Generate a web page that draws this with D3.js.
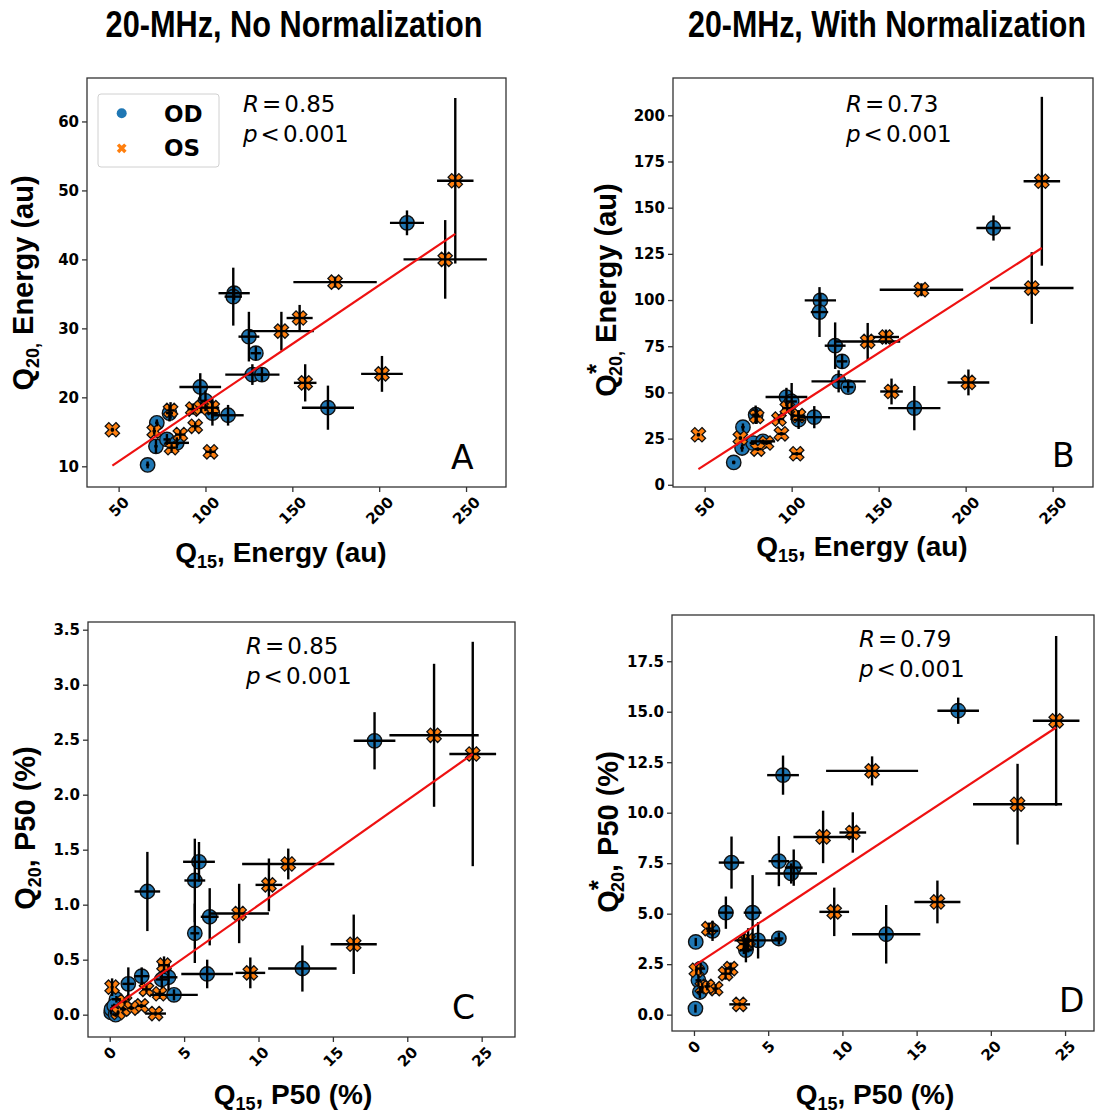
<!DOCTYPE html>
<html><head><meta charset="utf-8">
<script src="https://cdn.jsdelivr.net/npm/d3@7"></script>
<style>body{margin:0;background:#fff} svg{display:block} text{white-space:pre}</style>
</head><body><svg id="c" width="1095" height="1116"></svg>
<script>
// ---------- DATA ----------
// Energy (panels A & B share x)
const energyX_OD    = [216, 116.5, 116, 125, 129, 127, 132.5, 97, 100, 113, 104, 79.3, 72, 71.5, 66.7, 170.5, 77.8, 83.5];
const energyXerr_OD = [9.8, 9, 5, 6, 3, 15.6, 3, 12, 3, 9, 3, 2, 1, 1, 1, 15, 2, 7];
const energyA_OD    = [45.3, 35.1, 34.6, 28.8, 26.4, 23.3, 23.3, 21.5, 19.5, 17.4, 17.7, 17.7, 16.3, 12.9, 10.2, 18.5, 13.9, 13.4];
const energyAerr_OD = [1.8, 1, 4.2, 3.6, 1, 1.5, 1, 2, 1.5, 1.5, 1.8, 1.2, 0.5, 1, 0.5, 3.2, 0.8, 0.8];
const energyB_OD    = [139, 99.8, 93.5, 75.3, 66.8, 56, 52.9, 47.5, 45.1, 36.6, 35.2, 37.9, 31.2, 19.9, 12.1, 41.5, 22.6, 23.5];
const energyBerr_OD = [6.8, 4, 13.5, 12.6, 4, 6, 3, 5, 10, 6, 5, 5, 2, 2, 1, 12, 1, 1];

const energyX_OS    = [243.8, 238, 174.6, 154.2, 143.7, 201.6, 157.4, 102.9, 46.4, 94.1, 92.7, 103.9, 79.9, 70.5, 85.5, 80.5, 97.5];
const energyXerr_OS = [10.5, 24, 24, 7.5, 18.7, 12, 6.5, 3, 1, 2, 3, 4, 2, 1, 3, 2, 3];
const energyA_OS    = [51.4, 40, 36.7, 31.5, 29.6, 23.4, 22.1, 12.1, 15.3, 15.8, 18.3, 18.5, 18.1, 15.1, 14.6, 12.7, 18.5];
const energyAerr_OS = [12, 5.7, 0.8, 1.9, 2.8, 2.6, 2.7, 0.4, 0.3, 0.5, 0.8, 1.5, 1.2, 0.5, 0.5, 0.5, 0.8];
const energyB_OS    = [164.3, 106.5, 105.6, 80, 77.6, 55.4, 50.5, 16.8, 27.1, 27.6, 35.6, 37.4, 37, 25.3, 22.6, 19.3, 41.5];
const energyBerr_OS = [45.7, 19.4, 3.5, 4, 10, 7, 7, 1, 1, 1, 2, 3, 4, 1, 1, 1, 2];

// P50 (panels C & D share x)
const p50X_OD    = [17.8, 6.0, 2.53, 5.72, 6.72, 6.55, 5.72, 12.95, 2.15, 3.95, 1.25, 3.5, 4.32, 0.1, 0.12, 0.45, 0.3, 0.4];
const p50Xerr_OD = [1.4, 1.07, 0.86, 0.7, 0.6, 1.74, 0.3, 2.3, 0.5, 0.6, 0.4, 0.4, 1.6, 0.05, 0.05, 0.3, 0.2, 0.2];
const p50C_OD    = [2.49, 1.39, 1.12, 1.22, 0.89, 0.37, 0.74, 0.42, 0.35, 0.34, 0.28, 0.32, 0.18, 0.02, 0.05, 0.14, 0.08, 0.0];
const p50Cerr_OD = [0.26, 0.18, 0.36, 0.38, 0.26, 0.13, 0.27, 0.21, 0.08, 0.12, 0.15, 0.08, 0.05, 0.02, 0.02, 0.03, 0.02, 0.02];
const p50D_OD    = [15.05, 11.86, 7.53, 7.6, 7.28, 6.99, 3.77, 3.98, 5.05, 5.05, 4.15, 3.19, 3.68, 0.3, 3.6, 2.28, 1.7, 1.12];
const p50Derr_OD = [0.65, 0.97, 1.29, 1.24, 0.9, 0.5, 0.3, 1.45, 0.8, 1.86, 0.5, 0.6, 0.9, 0.2, 0.2, 0.3, 0.3, 0.3];

const p50X_OS    = [24.4, 21.8, 12.0, 10.7, 8.7, 16.4, 9.45, 3.65, 3.08, 0.16, 2.47, 3.36, 2.13, 1.46, 0.9, 0.56, 1.0];
const p50Xerr_OS = [1.57, 3.0, 3.1, 0.9, 2.0, 1.55, 1.0, 0.4, 0.7, 0.1, 0.3, 0.3, 0.3, 0.2, 0.2, 0.1, 0.2];
const p50C_OS    = [2.37, 2.54, 1.37, 1.18, 0.92, 0.64, 0.38, 0.45, 0.01, 0.25, 0.23, 0.19, 0.08, 0.06, 0.05, 0.02, 0.12];
const p50Cerr_OS = [1.02, 0.65, 0.14, 0.24, 0.27, 0.27, 0.14, 0.08, 0.02, 0.08, 0.03, 0.03, 0.02, 0.02, 0.02, 0.02, 0.03];
const p50D_OS    = [14.55, 10.42, 12.07, 9.02, 8.8, 5.58, 5.09, 3.68, 0.51, 2.2, 2.28, 3.5, 2.03, 1.29, 1.4, 1.35, 4.26];
const p50Derr_OS = [4.2, 2.0, 0.72, 1.0, 1.3, 1.06, 1.2, 0.6, 0.1, 0.2, 0.3, 0.5, 0.3, 0.2, 0.2, 0.2, 0.3];

// regression line end points
const fitA = [[46.4, 10.1], [243.8, 43.7]];
const fitB = [[46.4, 8.5], [243.8, 128.2]];
const fitC = [[0.05, 0.045], [24.4, 2.37]];
const fitD = [[0.05, 2.44], [24.4, 14.22]];

// ticks
const ticksXEnergy = [50, 100, 150, 200, 250];
const ticksXP50    = [0, 5, 10, 15, 20, 25];
const ticksYA = [10, 20, 30, 40, 50, 60];
const ticksYB = [0, 25, 50, 75, 100, 125, 150, 175, 200];
const ticksYC = [0, 0.5, 1.0, 1.5, 2.0, 2.5, 3.0, 3.5];
const ticksYD = [0, 2.5, 5.0, 7.5, 10.0, 12.5, 15.0, 17.5];

const statsR = ["0.85", "0.73", "0.85", "0.79"];
const statsP = "0.001";
const panelLetters = ["A", "B", "C", "D"];
const titles = ["20-MHz, No Normalization", "20-MHz, With Normalization"];
const legendLabels = ["OD", "OS"];

// ---------- DRAW ----------
const svg = d3.select("#c");
const BLUE = "#1f77b4", ORANGE = "#ff7f0e";
const TICKFONT = "'DejaVu Sans', sans-serif";
const LABELFONT = "'Liberation Sans', Arial, sans-serif";

function xMarkerPath(h) {
  const u = h / 3, c = Math.SQRT1_2;
  const pts = [[-1,-3],[1,-3],[1,-1],[3,-1],[3,1],[1,1],[1,3],[-1,3],[-1,1],[-3,1],[-3,-1],[-1,-1]];
  return "M" + pts.map(([a, b]) => { const x = a*u, y = b*u; return ((x-y)*c).toFixed(2) + "," + ((x+y)*c).toFixed(2); }).join("L") + "Z";
}

// titles (condensed bold, horizontally scaled to the reference width)
function addTitle(txt, cx, targetW) {
  const t = svg.append("text").attr("x", 0).attr("y", 0).attr("text-anchor", "middle")
    .style("font-family", "'Liberation Sans Narrow', 'Arial Narrow', 'Liberation Sans', sans-serif")
    .style("font-weight", "bold").style("font-size", "37px").text(txt);
  const w = t.node().getComputedTextLength();
  t.attr("transform", `translate(${cx},37) scale(${targetW / w},1)`);
}
addTitle(titles[0], 294, 377);
addTitle(titles[1], 887, 398);

function addLabel(sel, parts) {
  parts.forEach(p => {
    const ts = sel.append("tspan").text(p.t);
    if (p.fs) ts.style("font-size", p.fs + "px");
    if (p.dy != null) ts.attr("dy", p.dy);
    if (p.dx != null) ts.attr("dx", p.dx);
  });
}

const panels = [
  { x0: 87, x1: 506, y0: 78, y1: 487, xd: [31.8, 273], yd: [7.0, 66.3], xt: ticksXEnergy, yt: ticksYA,
    xf: d3.format("d"), yf: d3.format("d"),
    od: { x: energyX_OD, xe: energyXerr_OD, y: energyA_OD, ye: energyAerr_OD },
    os: { x: energyX_OS, xe: energyXerr_OS, y: energyA_OS, ye: energyAerr_OS },
    fit: fitA, r: statsR[0], sx: 243, sy: 112, lx: 451, ly: 469, letter: panelLetters[0],
    xl: { cx: 281, y: 562, parts: [{t:"Q"},{t:"15",fs:18,dy:6},{t:", Energy (au)",fs:28,dy:-6}] },
    yl: { x: 33, cy: 283, parts: [{t:"Q"},{t:"20,",fs:18,dy:6},{t:" Energy (au)",fs:29,dy:-6}] } },
  { x0: 673, x1: 1093, y0: 78, y1: 487, xd: [31.8, 273.2], yd: [-1.2, 220.2], xt: ticksXEnergy, yt: ticksYB,
    xf: d3.format("d"), yf: d3.format("d"),
    od: { x: energyX_OD, xe: energyXerr_OD, y: energyB_OD, ye: energyBerr_OD },
    os: { x: energyX_OS, xe: energyXerr_OS, y: energyB_OS, ye: energyBerr_OS },
    fit: fitB, r: statsR[1], sx: 846, sy: 112, lx: 1052, ly: 467, letter: panelLetters[1],
    xl: { cx: 862, y: 556, parts: [{t:"Q"},{t:"15",fs:18,dy:6},{t:", Energy (au)",fs:28,dy:-6}] },
    yl: { x: 616, cy: 290, parts: [{t:"Q"},{t:"*",fs:26,dy:-11},{t:"20,",fs:18,dx:-12,dy:17},{t:" Energy (au)",fs:29,dy:-6}] } },
  { x0: 88, x1: 515, y0: 622, y1: 1037, xd: [-1.46, 27.24], yd: [-0.203, 3.57], xt: ticksXP50, yt: ticksYC,
    xf: d3.format("d"), yf: d3.format(".1f"),
    od: { x: p50X_OD, xe: p50Xerr_OD, y: p50C_OD, ye: p50Cerr_OD },
    os: { x: p50X_OS, xe: p50Xerr_OS, y: p50C_OS, ye: p50Cerr_OS },
    fit: fitC, r: statsR[2], sx: 246, sy: 654, lx: 452, ly: 1019, letter: panelLetters[2],
    xl: { cx: 293, y: 1104, parts: [{t:"Q"},{t:"15",fs:18,dy:6},{t:", P50 (%)",fs:28,dy:-6}] },
    yl: { x: 35, cy: 828, parts: [{t:"Q"},{t:"20",fs:18,dy:6},{t:", P50 (%)",fs:29,dy:-6}] } },
  { x0: 672, x1: 1094, y0: 615, y1: 1031, xd: [-1.48, 26.95], yd: [-0.81, 19.79], xt: ticksXP50, yt: ticksYD,
    xf: d3.format("d"), yf: d3.format(".1f"),
    od: { x: p50X_OD, xe: p50Xerr_OD, y: p50D_OD, ye: p50Derr_OD },
    os: { x: p50X_OS, xe: p50Xerr_OS, y: p50D_OS, ye: p50Derr_OS },
    fit: fitD, r: statsR[3], sx: 859, sy: 647, lx: 1059, ly: 1012, letter: panelLetters[3],
    xl: { cx: 875, y: 1104, parts: [{t:"Q"},{t:"15",fs:18,dy:6},{t:", P50 (%)",fs:28,dy:-6}] },
    yl: { x: 618, cy: 832, parts: [{t:"Q"},{t:"*",fs:26,dy:-11},{t:"20",fs:18,dx:-12,dy:17},{t:", P50 (%)",fs:29,dy:-6}] } }
];

panels.forEach((p, pi) => {
  const g = svg.append("g");
  const x = d3.scaleLinear().domain(p.xd).range([p.x0, p.x1]);
  const y = d3.scaleLinear().domain(p.yd).range([p.y1, p.y0]);

  // x axis
  const ax = g.append("g").attr("transform", `translate(0,${p.y1})`)
    .call(d3.axisBottom(x).tickValues(p.xt).tickSize(5).tickFormat(p.xf));
  ax.select(".domain").remove();
  ax.selectAll(".tick line").attr("stroke", "#333").attr("stroke-width", 1.3);
  ax.selectAll(".tick text").each(function () {
    const t = d3.select(this);
    t.attr("y", null).attr("dy", null).attr("fill", "#000")
      .attr("text-anchor", "middle").attr("dominant-baseline", "central")
      .style("font-family", TICKFONT).style("font-weight", "bold").style("font-size", "15px");
    const w = this.getComputedTextLength();
    const c = 8.5 + (w + 11.5) * 0.7071 / 2;
    t.attr("transform", `translate(0,${c}) rotate(-45)`);
  });

  // y axis
  const ay = g.append("g").attr("transform", `translate(${p.x0},0)`)
    .call(d3.axisLeft(y).tickValues(p.yt).tickSize(5).tickPadding(3).tickFormat(p.yf));
  ay.select(".domain").remove();
  ay.selectAll(".tick line").attr("stroke", "#333").attr("stroke-width", 1.3);
  ay.selectAll(".tick text").attr("fill", "#000")
    .style("font-family", TICKFONT).style("font-weight", "bold").style("font-size", "15px");

  // markers
  const odIdx = d3.range(p.od.x.length), osIdx = d3.range(p.os.x.length);
  g.append("g").selectAll("circle").data(odIdx).join("circle")
    .attr("cx", i => x(p.od.x[i])).attr("cy", i => y(p.od.y[i])).attr("r", 7.2)
    .attr("fill", BLUE).attr("stroke", "#111").attr("stroke-width", 1.4);
  const xp = xMarkerPath(7.6);
  g.append("g").selectAll("path").data(osIdx).join("path")
    .attr("d", xp).attr("transform", i => `translate(${x(p.os.x[i])},${y(p.os.y[i])})`)
    .attr("fill", ORANGE).attr("stroke", "#111").attr("stroke-width", 1.3);

  // error bars
  const eb = g.append("g").attr("stroke", "#000").attr("stroke-width", 2.4);
  [p.od, p.os].forEach(s => {
    d3.range(s.x.length).forEach(i => {
      eb.append("line").attr("x1", x(s.x[i] - s.xe[i])).attr("x2", x(s.x[i] + s.xe[i]))
        .attr("y1", y(s.y[i])).attr("y2", y(s.y[i]));
      eb.append("line").attr("x1", x(s.x[i])).attr("x2", x(s.x[i]))
        .attr("y1", y(s.y[i] - s.ye[i])).attr("y2", y(s.y[i] + s.ye[i]));
    });
  });

  // regression line
  g.append("path").datum(p.fit)
    .attr("d", d3.line().x(d => x(d[0])).y(d => y(d[1])))
    .attr("stroke", "#ee1111").attr("stroke-width", 2.2).attr("fill", "none");

  // frame
  g.append("rect").attr("x", p.x0).attr("y", p.y0).attr("width", p.x1 - p.x0).attr("height", p.y1 - p.y0)
    .attr("fill", "none").attr("stroke", "#333").attr("stroke-width", 1.3);

  // stats text
  const st = g.append("text").attr("x", p.sx).attr("y", p.sy)
    .style("font-family", TICKFONT).style("font-size", "23px");
  st.append("tspan").style("font-style", "italic").text("R");
  st.append("tspan").attr("dx", 3).text("=");
  st.append("tspan").attr("dx", 3).text(p.r);
  const sp = g.append("text").attr("x", p.sx).attr("y", p.sy + 30)
    .style("font-family", TICKFONT).style("font-size", "23px");
  sp.append("tspan").style("font-style", "italic").text("p");
  sp.append("tspan").attr("dx", 3).text("<");
  sp.append("tspan").attr("dx", 3).text(statsP);

  // panel letter
  g.append("text").attr("x", p.lx).attr("y", p.ly)
    .style("font-family", TICKFONT).style("font-size", "33px").text(p.letter);

  // axis labels
  const xl = g.append("text").attr("x", p.xl.cx).attr("y", p.xl.y).attr("text-anchor", "middle")
    .style("font-family", LABELFONT).style("font-weight", "bold").style("font-size", "28px");
  addLabel(xl, p.xl.parts);
  const yl = g.append("text").attr("x", p.yl.x).attr("y", p.yl.cy).attr("text-anchor", "middle")
    .attr("transform", `rotate(-90,${p.yl.x},${p.yl.cy})`)
    .style("font-family", LABELFONT).style("font-weight", "bold").style("font-size", "29px");
  addLabel(yl, p.yl.parts);

  // legend (panel A only)
  if (pi === 0) {
    const lg = g.append("g");
    lg.append("rect").attr("x", 98).attr("y", 94).attr("width", 121).attr("height", 73).attr("rx", 3)
      .attr("fill", "#fff").attr("fill-opacity", 0.85).attr("stroke", "#d0d0d0").attr("stroke-width", 1);
    lg.append("circle").attr("cx", 121.7).attr("cy", 113.3).attr("r", 5).attr("fill", BLUE);
    lg.append("path").attr("d", xMarkerPath(5.2)).attr("transform", "translate(121.7,148.3)").attr("fill", ORANGE);
    lg.append("text").attr("x", 164).attr("y", 121.5).style("font-family", TICKFONT).style("font-weight", "bold")
      .style("font-size", "23px").text(legendLabels[0]);
    lg.append("text").attr("x", 164).attr("y", 156).style("font-family", TICKFONT).style("font-weight", "bold")
      .style("font-size", "23px").text(legendLabels[1]);
  }
});
</script></body></html>
